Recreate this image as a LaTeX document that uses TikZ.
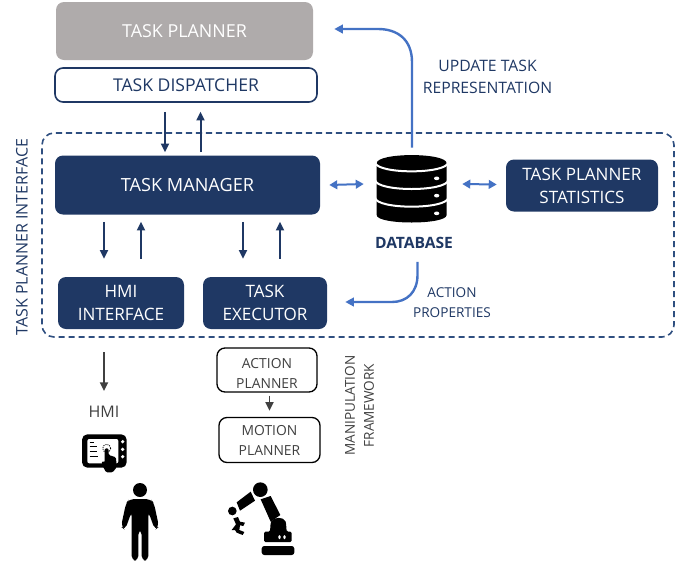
\documentclass[tikz,border=0pt]{standalone}
\usepackage{fontspec}
\setmainfont{Open Sans}
\usetikzlibrary{arrows.meta,calc}
\definecolor{navy}{HTML}{1F3864}
\definecolor{framec}{HTML}{2F4F80}
\definecolor{midblue}{HTML}{4472C4}
\definecolor{plangray}{HTML}{AFABAB}
\definecolor{darkg}{HTML}{404040}
\tikzset{
  box/.style={rectangle,rounded corners=6pt,align=center,inner sep=0pt},
  navybox/.style={box,fill=navy,text=white,font=\fontsize{12.8}{17.2}\selectfont},
  outlinebox/.style={box,draw=black,line width=1pt,fill=white,text=darkg,font=\fontsize{10.4}{15}\selectfont},
  lbl/.style={inner sep=0pt,align=center},
  navyarrow/.style={draw=navy,line width=1.5pt,-{Triangle[length=6.5pt,width=6pt]}},
  grayarrow/.style={draw=darkg,line width=1.4pt,-{Triangle[length=6.5pt,width=6pt]}},
  bluearrow/.style={draw=midblue,line width=1.8pt,-{Triangle[length=6.5pt,width=6.5pt]}},
  bluedouble/.style={draw=midblue,line width=1.5pt,{Triangle[length=6pt,width=6.5pt]}-{Triangle[length=6pt,width=6.5pt]}},
}
\begin{document}
\begin{tikzpicture}[x=0.75pt,y=-0.75pt]
\useasboundingbox (0,0) rectangle (694,565);
% dashed frame
\node[draw=framec,line width=1.2pt,dash pattern=on 4.6pt off 2.9pt,rounded corners=9pt,minimum width=474pt,minimum height=153pt,inner sep=0pt] (frame) at (358,235) {};
% boxes
\node[box,fill=plangray,text=white,font=\fontsize{13.4}{16}\selectfont,minimum width=192.75pt,minimum height=43.5pt] (planner) at (184.5,31) {TASK PLANNER};
\node[box,draw=navy,line width=1.2pt,fill=white,text=navy,font=\fontsize{13.2}{16}\selectfont,minimum width=196.5pt,minimum height=25.5pt] (dispatcher) at (186,85) {TASK DISPATCHER};
\node[navybox,font=\fontsize{13.6}{16}\selectfont,minimum width=198.75pt,minimum height=44.25pt] (manager) at (187.5,185) {TASK MANAGER};
\node[navybox,minimum width=114pt,minimum height=39pt] (stats) at (582,185.5) {TASK PLANNER\\STATISTICS};
\node[navybox,minimum width=94.5pt,minimum height=39pt] (hmi) at (121,303) {HMI\\INTERFACE};
\node[navybox,minimum width=93pt,minimum height=39pt] (executor) at (265,303) {TASK\\EXECUTOR};
\node[outlinebox,minimum width=75pt,minimum height=33pt] (action) at (267,370) {\rule{0pt}{13pt}ACTION\\PLANNER};
\node[outlinebox,minimum width=75.75pt,minimum height=33.75pt] (motion) at (269.5,440) {MOTION\\PLANNER};
% labels
\node[lbl,text=navy,font=\bfseries\fontsize{11.7}{14}\selectfont] (dblabel) at (414,243) {DATABASE};
\node[lbl,text=navy,font=\fontsize{11.8}{16.5}\selectfont] (update) at (487.5,76.5) {UPDATE TASK\\REPRESENTATION};
\node[lbl,text=navy,font=\fontsize{10.2}{15}\selectfont] (props) at (452,303) {ACTION\\PROPERTIES};
\node[lbl,text=navy,rotate=90,font=\fontsize{12}{14}\selectfont] (tpi) at (22,237) {TASK PLANNER INTERFACE};
\node[lbl,text=darkg,rotate=90,font=\fontsize{10.2}{14.25}\selectfont] (mf) at (359.5,405.5) {MANIPULATION\\FRAMEWORK};
\node[lbl,text=darkg,font=\fontsize{12}{14}\selectfont] (hmilabel) at (104,412) {HMI};
\node[inner sep=0pt,minimum width=52.5pt,minimum height=51pt] (db) at (412,189) {};
% database icon
\begin{scope}[shift={(320,130)},x=0.25pt,y=-0.25pt]
\fill[black] (170,100) -- (170,255) .. controls (170,285) and (380,285) .. (380,255) -- (380,100)
  .. controls (380,67) and (170,67) .. (170,100) -- cycle;
\draw[white,line width=1.5pt] (165,97) .. controls (170,133) and (380,133) .. (385,97);
\draw[white,line width=1.5pt] (165,150) .. controls (170,186) and (380,186) .. (385,150);
\draw[white,line width=1.5pt] (165,203) .. controls (170,239) and (380,239) .. (385,203);
\foreach \yy in {145,197,250}{\fill[white] (350,\yy) ellipse [x radius=8,y radius=5.5];}
\end{scope}
% navy connectors
\draw[navyarrow] ($(dispatcher.south)+(-21,9)$) -- ($(manager.north)+(-22.5,-3)$);
\draw[navyarrow] ($(manager.north)+(13,-3)$) -- ($(dispatcher.south)+(14.5,9)$);
\draw[navyarrow] ($(manager.south)+(-83.5,7)$) -- ($(hmi.north)+(-17,-18)$);
\draw[navyarrow] ($(hmi.north)+(20,-18)$) -- ($(manager.south)+(-46.5,7)$);
\draw[navyarrow] ($(manager.south)+(55.5,7)$) -- ($(executor.north)+(-22,-18)$);
\draw[navyarrow] ($(executor.north)+(15,-18)$) -- ($(manager.south)+(92.5,7)$);
% gray connectors
\draw[grayarrow] ($(hmi.south)+(-17,23)$) -- ($(hmilabel.center)+(0,-21)$);
\draw[grayarrow] ($(action.south)+(2.5,3)$) -- ($(motion.north)+(0,-6)$);
% blue connectors
\draw[bluedouble] ($(manager.east)+(9,0)$) -- ($(db.west)+(-13,-5)$);
\draw[bluedouble] ($(db.east)+(15,-5)$) -- ($(stats.west)+(-9,-1)$);
\draw[bluearrow] ($(db.north)+(0,-7)$) -- (412,62) .. controls (412,40) and (398,29) .. (378,29) -- ($(planner.east)+(21,-2)$);
\draw[bluearrow] ($(dblabel.south)+(3.5,13)$) -- (417.5,275) .. controls (417.5,292) and (407,302) .. (392,302) -- ($(executor.east)+(18,-1)$);
% tablet, person, robot
\begin{scope}[shift={(60,340)},x=0.25pt,y=-0.25pt]
\fill[black,rounded corners=4pt] (66,283) rectangle (200,383);
\fill[white,rounded corners=1.5pt] (82,297) rectangle (175,370);
\foreach \yy in {305,328,350}{\fill[white] (188,\yy) circle (5.5);}
\foreach \yy/\xx in {307/103,320/110,335/112,350/115}{\draw[black,line width=0.5pt] (89,\yy) -- (\xx,\yy);}
\draw[black,line width=0.6pt,dash pattern=on 0.8pt off 0.8pt] (140,325) circle (12);
\fill[black,rounded corners=1pt] (134,325) -- (146,325) -- (146,345) -- (168,352) -- (170,382) -- (158,397) -- (138,397) -- (125,372) -- (127,362) -- (134,368) -- cycle;
% person
\fill[black] (240,450) circle (21);
\fill[black,rounded corners=3.5pt] (208,477) -- (272,477) -- (282,490) -- (297,560) -- (285,570) -- (265,515) -- (265,662) -- (245,662) -- (245,570) -- (235,570) -- (235,662) -- (215,662) -- (215,515) -- (195,570) -- (183,560) -- (198,490) -- cycle;
% robot
\fill[black,rounded corners=2pt] (605,618) rectangle (703,645);
\fill[black,rounded corners=1pt] (612,606) -- (612,575) -- (630,575) -- (632,548) .. controls (640,530) and (672,530) .. (678,548) -- (680,575) -- (695,575) -- (695,606) -- cycle;
\fill[white,rounded corners=1pt] (655,585) rectangle (662,598);
\fill[white,rounded corners=1pt] (670,585) rectangle (677,598);
\fill[black] (601,449) circle (22);
\fill[black] (602,478) -- (632,468) -- (661,525) -- (632,545) -- cycle;
\fill[black] (530,487) -- (572,455) -- (585,482) -- (540,512) -- cycle;
\fill[black] (517,513) circle (13);
\fill[black] (520,535) -- (534,531) -- (540,545) -- (555,548) -- (550,558) -- (540,556) -- (538,570) -- (553,576) -- (548,585) -- (530,578) -- (525,570) -- (515,570) -- (528,553) -- cycle;
\end{scope}
\end{tikzpicture}
\end{document}
